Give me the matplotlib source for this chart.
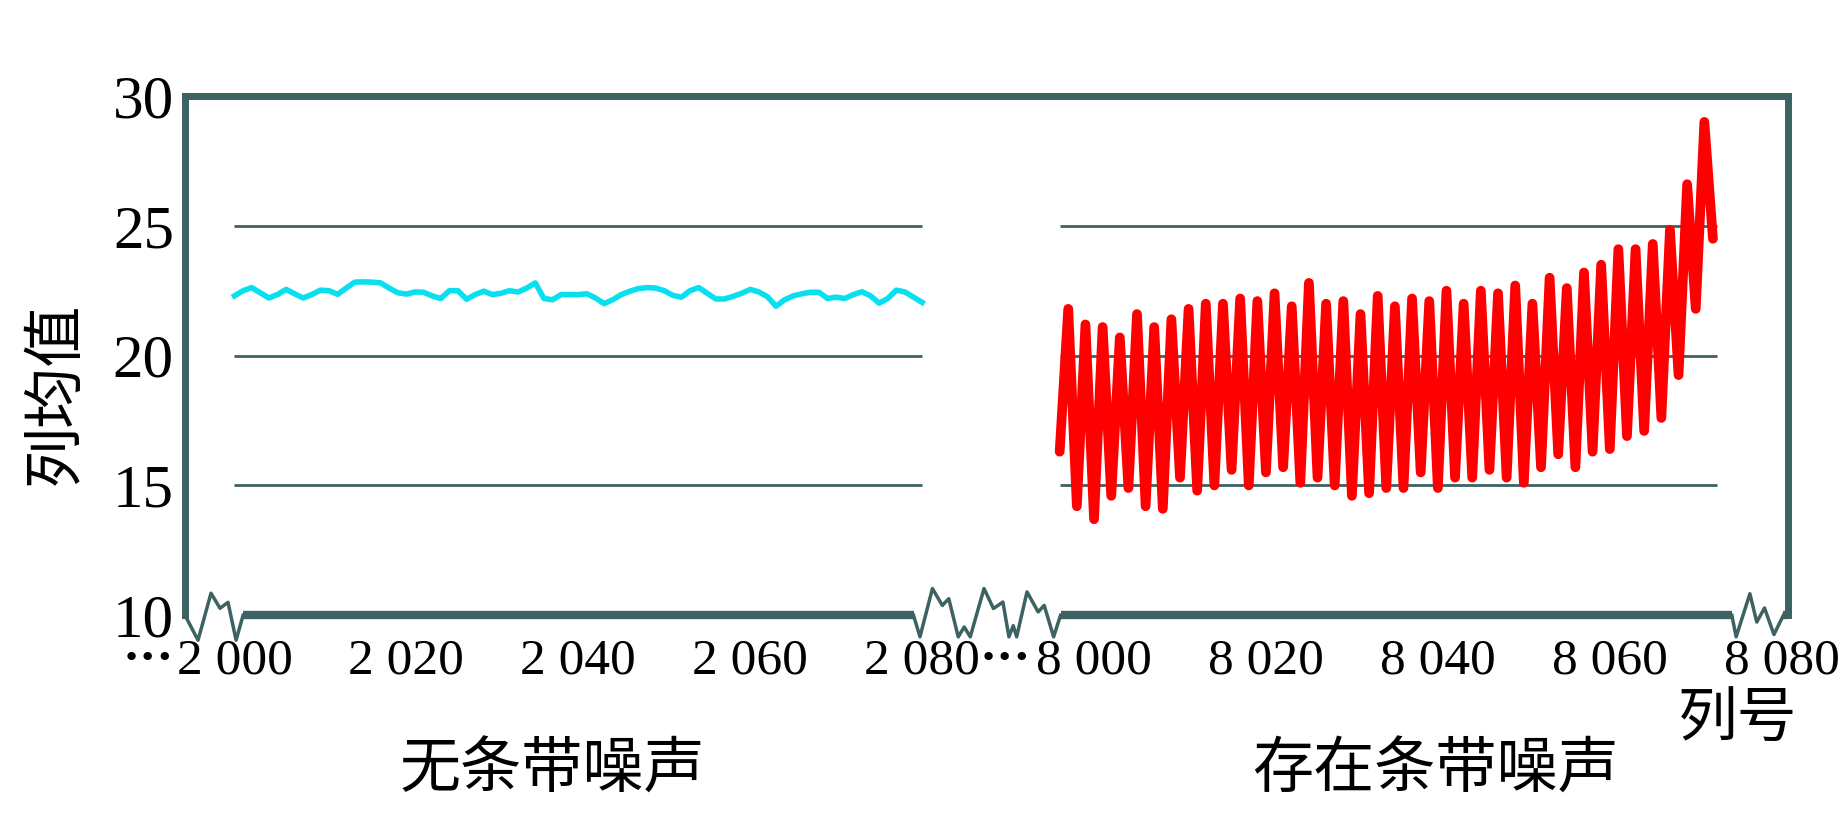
import matplotlib.pyplot as plt
import numpy as np

plt.rcParams['font.family'] = ['Liberation Serif', 'Noto Sans CJK SC', 'DejaVu Sans']

# 数据：无条带噪声 (列 2000-2080)
cols_left = np.arange(2000, 2081)
mean_left = [22.30, 22.50, 22.62, 22.42, 22.22, 22.35, 22.55, 22.38, 22.22, 22.35,
             22.52, 22.50, 22.36, 22.60, 22.83, 22.84, 22.83, 22.80, 22.60, 22.42,
             22.37, 22.45, 22.44, 22.30, 22.20, 22.50, 22.50, 22.17, 22.35, 22.48,
             22.35, 22.40, 22.50, 22.45, 22.60, 22.80, 22.20, 22.15, 22.35, 22.35,
             22.35, 22.38, 22.22, 22.00, 22.15, 22.35, 22.48, 22.58, 22.62, 22.60,
             22.50, 22.32, 22.25, 22.50, 22.62, 22.40, 22.18, 22.18, 22.28, 22.40,
             22.55, 22.45, 22.27, 21.90, 22.15, 22.30, 22.38, 22.44, 22.44, 22.20,
             22.25, 22.20, 22.35, 22.46, 22.30, 22.02, 22.20, 22.52, 22.45, 22.25,
             22.05]

# 数据：存在条带噪声 (列 7996-8072)
cols_right = np.arange(7996, 8073)
mean_right = [16.3,
              21.8, 14.2, 21.2, 13.7, 21.1, 14.6, 20.7, 14.9, 21.6, 14.2,
              21.1, 14.1, 21.4, 15.3, 21.8, 14.8, 22.0, 15.0, 22.0, 15.6,
              22.2, 15.0, 22.1, 15.5, 22.4, 15.7, 21.9, 15.1, 22.8, 15.3,
              22.0, 15.0, 22.1, 14.6, 21.6, 14.7, 22.3, 14.9, 21.9, 14.9,
              22.2, 15.5, 22.1, 14.9, 22.5, 15.3, 22.0, 15.3, 22.5, 15.6,
              22.4, 15.3, 22.7, 15.1, 22.0, 15.7, 23.0, 16.2, 22.6, 15.7,
              23.2, 16.3, 23.5, 16.4, 24.1, 16.9, 24.1, 17.1, 24.3, 17.6,
              24.85, 19.25, 26.6, 21.8, 29.0,
              24.5]

xticks_left = [2000, 2020, 2040, 2060, 2080]
xticks_right = [8000, 8020, 8040, 8060, 8080]
xticklabels = ["2 000", "2 020", "2 040", "2 060", "2 080",
               "8 000", "8 020", "8 040", "8 060", "8 080"]
yticks = [10, 15, 20, 25, 30]
grid_values = [15, 20, 25]

# 两段横轴拼在同一坐标轴上
shift_left = 2000
shift_right = 7900
xmin, xmax = -5.75, 180.7

frame = '#3D6262'

fig = plt.figure(figsize=(18.43, 8.27), dpi=100)
ax = fig.add_axes([0.1004, 0.256, 0.8696, 0.628])

pos_left = cols_left - shift_left
pos_right = cols_right - shift_right

ax.hlines(grid_values, pos_left[0], pos_left[-1], color=frame, lw=2, zorder=1)
ax.hlines(grid_values, pos_right[0], pos_right[-1] + 0.5, color=frame, lw=2, zorder=1)

ax.plot(pos_left, mean_left, color='#08E0F0', lw=4, solid_joinstyle='round', zorder=3)
ax.plot(pos_right, mean_right, color='#FF0000', lw=7,
        solid_joinstyle='round', solid_capstyle='round', zorder=3)

ax.set_xlim(xmin, xmax)
ax.set_ylim(10, 30)
ax.set_yticks(yticks)
tick_pos = [t - shift_left for t in xticks_left] + [t - shift_right for t in xticks_right]
ax.set_xticks(tick_pos, xticklabels)
ax.tick_params(axis='x', length=0, pad=16, labelsize=37)
ax.tick_params(axis='y', length=0, pad=8, labelsize=44)

for side in ['left', 'top', 'right']:
    ax.spines[side].set_color(frame)
    ax.spines[side].set_linewidth(5)
ax.spines['bottom'].set_visible(False)

# 底边：粗线段 + 断轴折线
base_segments = [(1.0, 79.0), (96.1, 174.2), (180.2, xmax)]
for a, b in base_segments:
    ax.plot([a, b], [10, 10], color=frame, lw=6, solid_capstyle='butt',
            clip_on=False, zorder=4)

zig_left = [(xmin, 0), (-4.24, -0.96), (-2.73, 0.85), (-1.68, 0.27), (-0.75, 0.5),
            (0.19, -0.96), (1.0, 0)]
zig_mid = [(79.0, 0), (79.75, -0.83), (81.2, 1.03), (82.35, 0.38), (83.1, 0.64),
           (84.2, -0.83), (84.9, -0.45), (85.6, -0.83), (87.2, 1.03), (88.3, 0.26),
           (89.4, 0.51), (90.1, -0.83), (90.6, -0.4), (91.0, -0.83), (92.2, 0.9),
           (93.5, 0.13), (94.2, 0.38), (95.3, -0.83), (96.1, 0)]
zig_right = [(174.2, 0), (174.7, -0.83), (176.3, 0.83), (177.1, -0.26),
             (178.0, 0.28), (179.1, -0.74), (180.2, 0)]
for zig in [zig_left, zig_mid, zig_right]:
    zx = [p for p, d in zig]
    zy = [10 + d for p, d in zig]
    ax.plot(zx, zy, color=frame, lw=2.5, clip_on=False, zorder=4)

for p in [-10.0, 89.7]:
    ax.annotate("···", xy=(p, 0), xycoords=('data', 'axes fraction'),
                xytext=(0, -16), textcoords='offset points', ha='center', va='top',
                fontsize=37, fontweight='bold', annotation_clip=False)

cjk = ['Noto Sans CJK SC', 'DejaVu Sans']
fig.text(0.030, 0.524, "列均值", rotation=90, ha='center', va='center',
         fontsize=44, family=cjk)
fig.text(0.943, 0.130, "列号", ha='center', va='center', fontsize=43, family=cjk)
fig.text(0.2996, 0.069, "无条带噪声", ha='center', va='center', fontsize=44, family=cjk)
fig.text(0.779, 0.069, "存在条带噪声", ha='center', va='center', fontsize=44, family=cjk)

fig.savefig('out.png', dpi=100, facecolor='white')
